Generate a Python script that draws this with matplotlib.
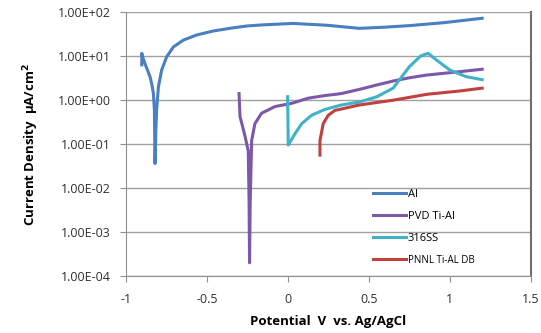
import numpy as np
import matplotlib.pyplot as plt
from matplotlib.ticker import FixedLocator, FixedFormatter

# potentiodynamic scans
al_v = [-0.903, -0.903, -0.895, -0.883, -0.865, -0.852, -0.84, -0.831, -0.825, -0.821, -0.816,
        -0.811, -0.80, -0.78, -0.749, -0.708, -0.646, -0.564, -0.461, -0.358, -0.255, -0.17,
        0.03, 0.24, 0.44, 0.59, 0.75, 0.96, 1.2]
al_i = [6.3, 11.5, 9.0, 6.7, 4.5, 3.4, 2.2, 1.4, 0.6, 0.036, 0.2,
        0.6, 2.0, 4.8, 9.6, 16, 23, 30, 37, 42.6, 48, 50.6,
        55, 50, 42.5, 45, 49, 57, 72]

pvd_v = [-0.302, -0.296, -0.28, -0.265, -0.245, -0.24, -0.237, -0.233, -0.224, -0.204, -0.163,
         -0.08, 0.023, 0.125, 0.228, 0.33, 0.444, 0.55, 0.65, 0.75, 0.86, 0.95, 1.06, 1.2]
pvd_i = [1.4, 0.42, 0.25, 0.15, 0.07, 0.005, 0.0002, 0.005, 0.12, 0.29, 0.50,
         0.71, 0.84, 1.1, 1.26, 1.4, 1.75, 2.2, 2.7, 3.2, 3.7, 4.0, 4.4, 5.0]

ss_v = [-0.002, 0.0, 0.002, 0.043, 0.085, 0.146, 0.228, 0.33, 0.44, 0.55, 0.65, 0.75, 0.82,
        0.865, 0.92, 1.0, 1.1, 1.2]
ss_i = [1.19, 0.4, 0.095, 0.17, 0.29, 0.45, 0.61, 0.77, 0.9, 1.19, 1.86, 5.7, 10,
        11.5, 8.0, 4.8, 3.4, 2.9]

pnnl_v = [0.198, 0.198, 0.218, 0.249, 0.29, 0.352, 0.44, 0.65, 0.86, 1.06, 1.2]
pnnl_i = [0.056, 0.12, 0.29, 0.45, 0.58, 0.65, 0.77, 0.99, 1.35, 1.6, 1.86]

labels = ['Al', 'PVD Ti-Al', '316SS', 'PNNL Ti-AL DB']
colors = ['#4a7fc1', '#7e58a8', '#3fb2c8', '#c0413d']

y_ticks = [1e-4, 1e-3, 1e-2, 1e-1, 1e0, 1e1, 1e2]
y_labels = ['1.00E-04', '1.00E-03', '1.00E-02', '1.00E-01', '1.00E+00', '1.00E+01', '1.00E+02']
x_ticks = [-1, -0.5, 0, 0.5, 1, 1.5]
x_labels = ['-1', '-0.5', '0', '0.5', '1', '1.5']

plt.rcParams['font.family'] = ['Open Sans', 'DejaVu Sans']

fig = plt.figure(figsize=(5.41, 3.33), dpi=100)
ax = fig.add_axes([0.233, 0.171, 0.748, 0.793])

series = [(al_v, al_i), (pvd_v, pvd_i), (ss_v, ss_i), (pnnl_v, pnnl_i)]
for (v, i), lab, c in zip(series, labels, colors):
    ax.plot(v, i, color=c, lw=2.2, label=lab, solid_joinstyle='round')

ax.set_yscale('log')
ax.set_xlim(-1, 1.5)
ax.set_ylim(1e-4, 1e2)
ax.yaxis.set_major_locator(FixedLocator(y_ticks))
ax.yaxis.set_major_formatter(FixedFormatter(y_labels))
ax.yaxis.set_minor_locator(FixedLocator([]))
ax.set_xticks(x_ticks)
ax.set_xticklabels(x_labels)
ax.grid(axis='y', color='#a0a0a0', lw=1.0)
ax.set_axisbelow(True)

ax.spines['top'].set_visible(False)
ax.spines['left'].set_color('#909090')
ax.spines['bottom'].set_color('#909090')
ax.spines['right'].set_color('#707070')
ax.spines['right'].set_linewidth(1.5)
ax.tick_params(axis='both', direction='out', length=4, color='#909090',
               labelsize=9, labelcolor='#303030')
ax.tick_params(axis='y', pad=7)
ax.tick_params(axis='x', pad=8)

ax.set_xlabel('Potential  V  vs. Ag/AgCl', fontsize=9.5, fontweight='bold', labelpad=7)
ax.set_ylabel('Current Density  \u03bcA/cm$^{\\mathbf{2}}$', fontsize=9.5, fontweight='bold', labelpad=12)

leg = ax.legend(loc='lower left', bbox_to_anchor=(0.585, 0.0), frameon=False,
                fontsize=8, handlelength=3.0, handletextpad=0.15, labelspacing=1.0)
leg.get_texts()[3].set_fontsize(7)

fig.savefig('out.png', dpi=100)
